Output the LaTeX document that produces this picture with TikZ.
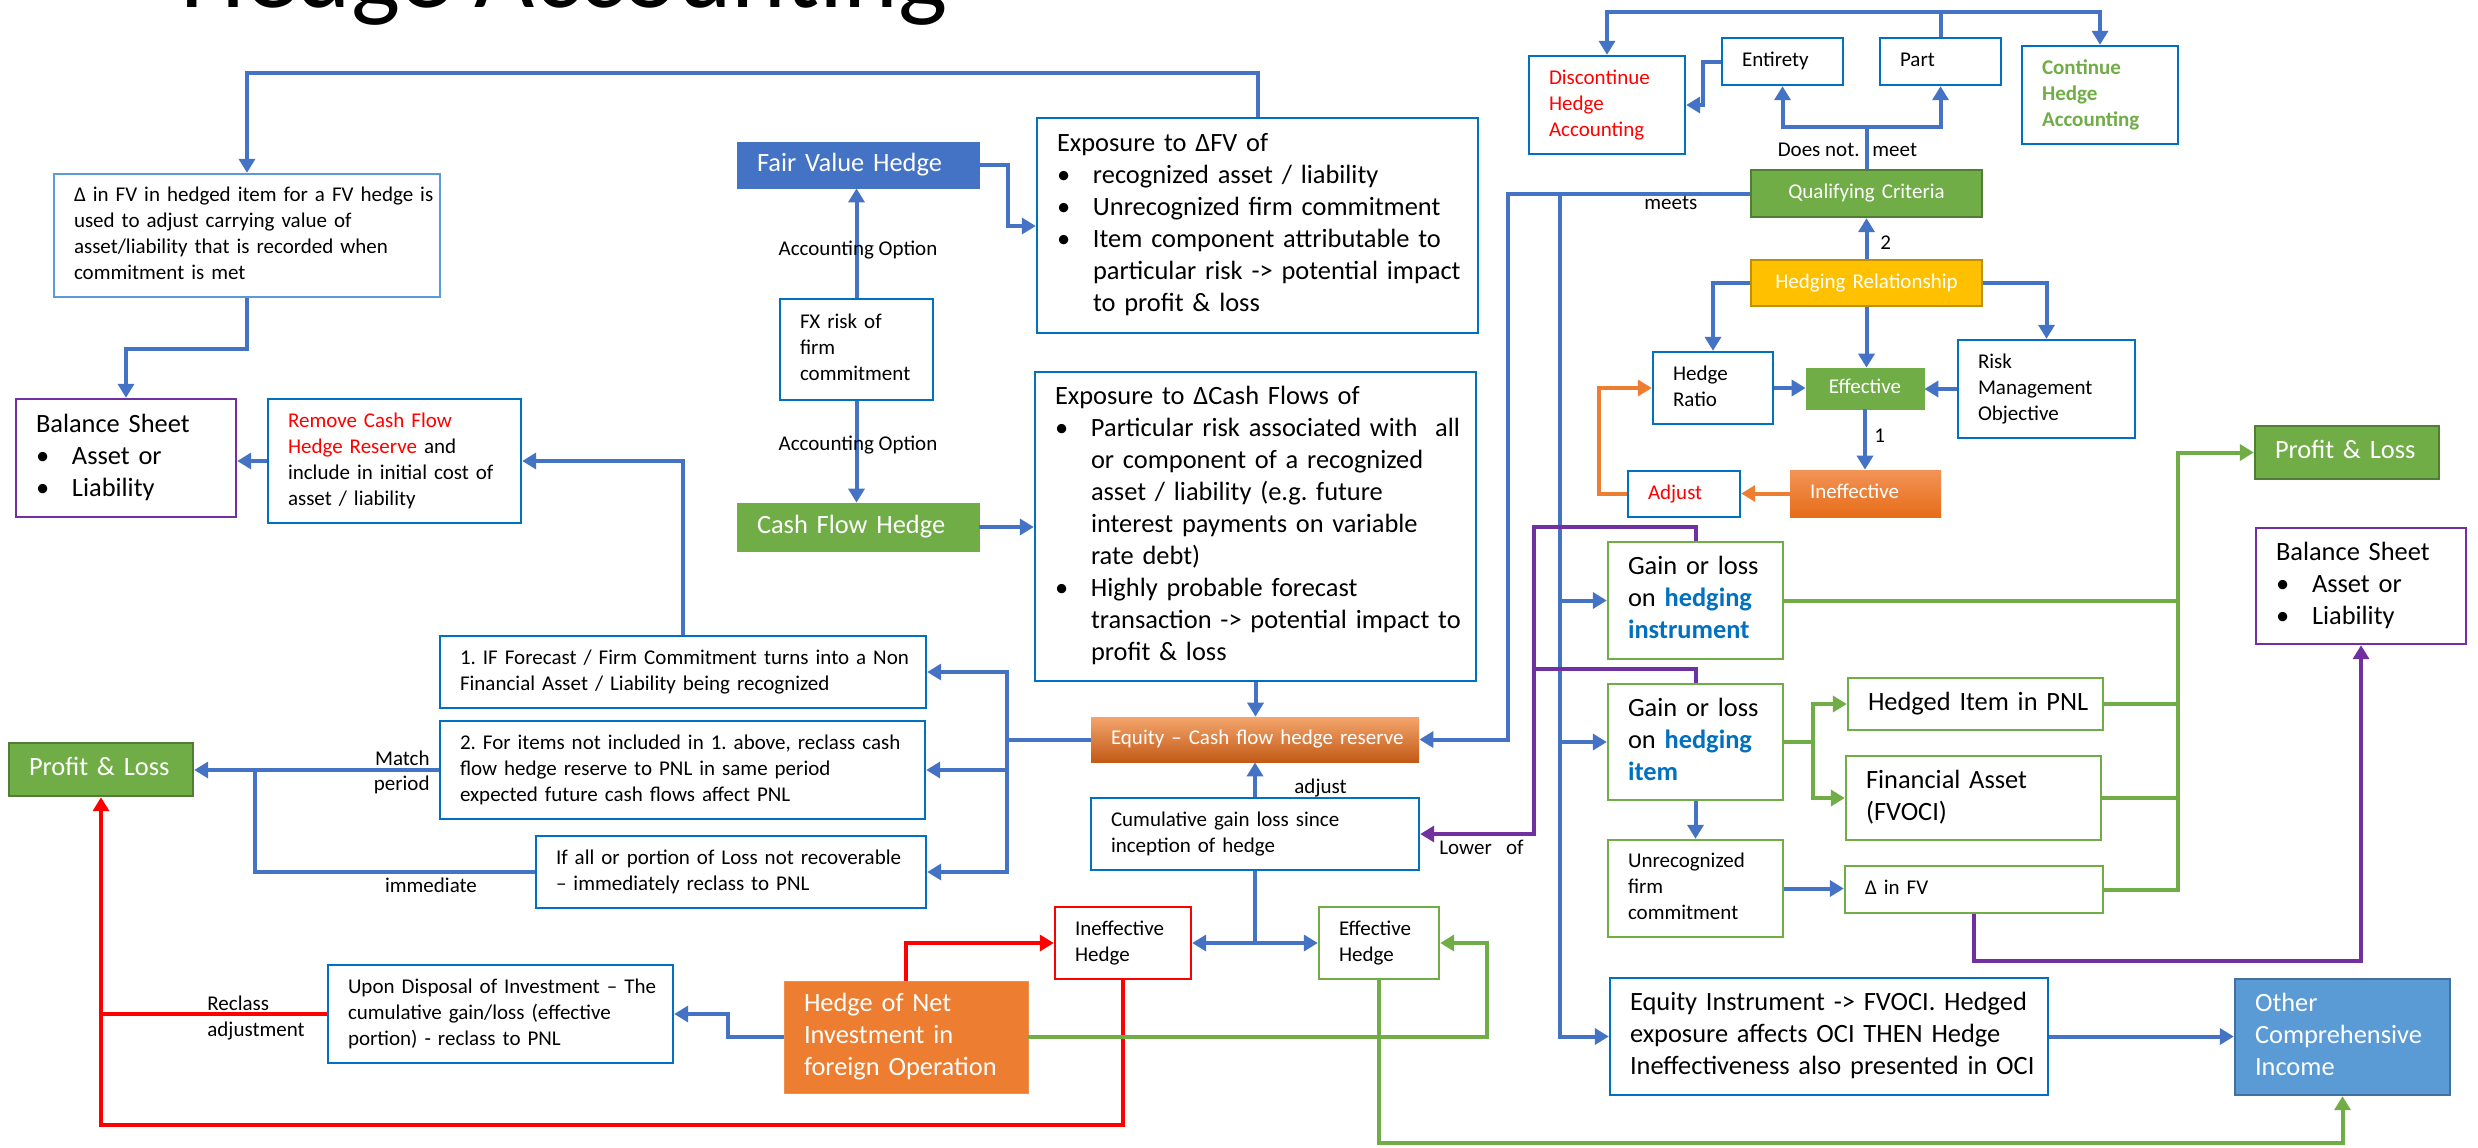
\documentclass[tikz,border=0pt]{standalone}
\usepackage{fontspec}
\setmainfont{Carlito}
\usetikzlibrary{arrows.meta}

\definecolor{cblue}{HTML}{4472C4}
\definecolor{bblue}{HTML}{0070C0}
\definecolor{lblue}{HTML}{5B9BD5}
\definecolor{ociborder}{HTML}{41719C}
\definecolor{cgreen}{HTML}{70AD47}
\definecolor{dgreen}{HTML}{507E32}
\definecolor{cpurple}{HTML}{7030A0}
\definecolor{corange}{HTML}{ED7D31}
\definecolor{cgold}{HTML}{FFC000}
\definecolor{dgold}{HTML}{BF9000}
\definecolor{eqtop}{HTML}{F4A56C}
\definecolor{eqbot}{HTML}{C25A16}
\definecolor{intop}{HTML}{F29457}
\definecolor{inbot}{HTML}{E66C18}

\newcommand\tsm{\fontsize{10.5}{13}\selectfont}
\newcommand\tlg{\fontsize{13.2}{16}\selectfont}
\newcommand\bul{\makebox[18pt][l]{\textbullet}}
\newcommand\ind{\hspace*{18pt}}
\newcommand\kw[1]{\textcolor{bblue}{\bfseries #1}}

% box given by its corners (x1,y1) (x2,y2) in pixel units, text left-padded
\newcommand\flowbox[7]{%
  \pgfmathsetmacro\fbcx{(#2+#4)/2}%
  \pgfmathsetmacro\fbcy{(#3+#5)/2}%
  \pgfmathsetmacro\fbw{(#4-#2)*0.5}%
  \pgfmathsetmacro\fbh{(#5-#3)*0.5}%
  \pgfmathsetmacro\fbtw{(#4-#2)*0.5-20}%
  \node[inner xsep=10pt, inner ysep=0pt, minimum width=\fbw pt,
        minimum height=\fbh pt, text width=\fbtw pt, align=left, #6]
        (#1) at (\fbcx,\fbcy) {\begin{tabular}{@{}l@{}}#7\end{tabular}};}

\tikzset{
  box/.style={draw=bblue, line width=1.2pt, fill=white},
  ln/.style={line width=2pt},
  tip/.style={-{Triangle[length=7pt,width=8pt]}},
  bl/.style={ln, draw=cblue, tip},
  bln/.style={ln, draw=cblue},
  rd/.style={ln, draw=red, tip},
  rdn/.style={ln, draw=red},
  gn/.style={ln, draw=cgreen, tip},
  gnn/.style={ln, draw=cgreen},
  pu/.style={ln, draw=cpurple, tip},
  pun/.style={ln, draw=cpurple},
  og/.style={ln, draw=corange, tip},
  lbl/.style={font=\tsm, inner sep=0pt},
}

\begin{document}
\frenchspacing
\begin{tikzpicture}[x=0.5pt, y=-0.5pt]
\fill[white] (0,0) rectangle (2478,1147);
\useasboundingbox (0,0) rectangle (2478,1147);
\clip (0,0) rectangle (2478,1147);

\node[anchor=base west, inner sep=0pt, font=\fontsize{52}{60}\selectfont] (title) at (180,7) {Hedge Accounting};

% ---- left part
\flowbox{dfv}{54}{174}{440}{297}{box, draw=lblue, font=\tsm}{Δ in FV in hedged item for a FV hedge is\\used to adjust carrying value of\\asset/liability that is recorded when\\commitment is met}
\flowbox{bsL}{16}{399}{236}{517}{box, draw=cpurple, font=\tlg}{Balance Sheet\\\bul Asset or\\\bul Liability}
\flowbox{remove}{268}{399}{521}{523}{box, font=\tsm}{\textcolor{red}{Remove Cash Flow}\\\textcolor{red}{Hedge Reserve} and\\include in initial cost of\\asset / liability}
\flowbox{fvh}{737}{142}{979}{188}{fill=cblue, draw=cblue, text=white, font=\tlg}{Fair Value Hedge}
\flowbox{fx}{780}{299}{933}{400}{box, font=\tsm}{FX risk of\\firm\\commitment}
\flowbox{cfh}{737}{503}{979}{551}{fill=cgreen, draw=cgreen, text=white, font=\tlg}{Cash Flow Hedge}
\flowbox{expfv}{1037}{118}{1478}{333}{box, font=\tlg}{Exposure to ΔFV of\\\bul recognized asset / liability\\\bul Unrecognized firm commitment\\\bul Item component attributable to\\\ind particular risk -> potential impact\\\ind to profit \& loss}
\flowbox{expcf}{1035}{372}{1476}{681}{box, font=\tlg}{Exposure to ΔCash Flows of\\\bul Particular risk associated with\ \ all\\\ind or component of a recognized\\\ind asset / liability (e.g. future\\\ind interest payments on variable\\\ind rate debt)\\\bul Highly probable forecast\\\ind transaction -> potential impact to\\\ind profit \& loss}
\flowbox{box1}{440}{636}{926}{708}{box, font=\tsm}{1. IF Forecast / Firm Commitment turns into a Non\\Financial Asset / Liability being recognized}
\flowbox{box2}{440}{721}{925}{819}{box, font=\tsm}{2. For items not included in 1. above, reclass cash\\flow hedge reserve to PNL in same period\\expected future cash flows affect PNL}
\flowbox{box3}{536}{836}{926}{908}{box, font=\tsm}{If all or portion of Loss not recoverable\\– immediately reclass to PNL}
\flowbox{plL}{9}{743}{193}{796}{fill=cgreen, draw=dgreen, line width=1.2pt, text=white, font=\tlg}{Profit \& Loss}
\flowbox{equity}{1091}{717}{1419}{762}{top color=eqtop, bottom color=eqbot, draw=none, text=white, font=\tsm}{Equity – Cash flow hedge reserve}
\flowbox{cum}{1091}{798}{1419}{870}{box, font=\tsm}{Cumulative gain loss since\\inception of hedge}
\flowbox{ineffH}{1055}{907}{1191}{979}{box, draw=red, font=\tsm}{Ineffective\\Hedge}
\flowbox{effH}{1319}{907}{1439}{979}{box, draw=cgreen, font=\tsm}{Effective\\Hedge}
\flowbox{hni}{784}{981}{1028}{1093}{fill=corange, draw=corange!85!white, text=white, font=\tlg}{Hedge of Net\\Investment in\\foreign Operation}
\flowbox{upon}{328}{965}{673}{1063}{box, font=\tsm}{Upon Disposal of Investment – The\\cumulative gain/loss (effective\\portion) - reclass to PNL}

% ---- right part
\flowbox{disc}{1529}{56}{1685}{154}{box, text=red, font=\tsm}{Discontinue\\Hedge\\Accounting}
\flowbox{entirety}{1722}{38}{1843}{85}{box, font=\tsm}{Entirety}
\flowbox{part}{1880}{38}{2001}{85}{box, font=\tsm}{Part}
\flowbox{cont}{2022}{46}{2178}{144}{box, text=cgreen, font=\tsm\bfseries}{Continue\\Hedge\\Accounting}
\flowbox{qc}{1751}{170}{1982}{217}{fill=cgreen, draw=dgreen, line width=1.2pt, text=white, font=\tsm, align=center}{Qualifying Criteria}
\flowbox{hr}{1751}{260}{1982}{306}{fill=cgold, draw=dgold, line width=1.2pt, text=white, font=\tsm, align=center}{Hedging Relationship}
\flowbox{hratio}{1653}{352}{1773}{424}{box, font=\tsm}{Hedge\\Ratio}
\flowbox{eff}{1806}{368}{1924}{409}{fill=cgreen, draw=cgreen, text=white, font=\tsm, align=center}{Effective}
\flowbox{risk}{1958}{340}{2135}{438}{box, font=\tsm}{Risk\\Management\\Objective}
\flowbox{ineff}{1790}{470}{1941}{517}{top color=intop, bottom color=inbot, draw=none, text=white, font=\tsm}{Ineffective}
\flowbox{adjust}{1628}{471}{1740}{517}{box, text=red, font=\tsm}{Adjust}
\flowbox{plR}{2255}{426}{2439}{479}{fill=cgreen, draw=dgreen, line width=1.2pt, text=white, font=\tlg}{Profit \& Loss}
\flowbox{bsR}{2256}{528}{2466}{644}{box, draw=cpurple, font=\tlg}{Balance Sheet\\\bul Asset or\\\bul Liability}
\flowbox{gi}{1608}{542}{1783}{659}{box, draw=cgreen, font=\tlg}{Gain or loss\\on \kw{hedging}\\\kw{instrument}}
\flowbox{gitem}{1608}{684}{1783}{800}{box, draw=cgreen, font=\tlg}{Gain or loss\\on \kw{hedging}\\\kw{item}}
\flowbox{hipnl}{1848}{678}{2103}{730}{box, draw=cgreen, font=\tlg}{Hedged Item in PNL}
\flowbox{fa}{1846}{756}{2101}{840}{box, draw=cgreen, font=\tlg}{Financial Asset\\(FVOCI)}
\flowbox{unrec}{1608}{840}{1783}{937}{box, draw=cgreen, font=\tsm}{Unrecognized\\firm\\commitment}
\flowbox{dinfv}{1845}{866}{2103}{913}{box, draw=cgreen, font=\tsm}{Δ in FV}
\flowbox{eqinst}{1610}{978}{2048}{1095}{box, font=\tlg}{Equity Instrument -> FVOCI. Hedged\\exposure affects OCI THEN Hedge\\Ineffectiveness also presented in OCI}
\flowbox{oci}{2235}{979}{2450}{1095}{fill=lblue, draw=ociborder, line width=1.2pt, text=white, font=\tlg}{Other\\Comprehensive\\Income}

% ---- blue connectors, left part
\draw[bl] (expfv.north) -- ++(0,-44) -| (dfv.north);
\draw[bl] (dfv.south) -- ++(0,51) -| (bsL.north);
\draw[bl] (remove.west) -- (remove.west -| bsL.east);
\draw[bl] (box1.north) |- (remove.east);
\draw[bl] (fx.north) -- (fx.north |- fvh.south);
\draw[bl] (fx.south) -- (fx.south |- cfh.north);
\draw[bl] (fvh.east) -- ++(29,0) |- (expfv.west |- 0,226);
\draw[bl] (cfh.east) -- (cfh.east -| expcf.west);
\draw[bl] (expcf.south) -- (expcf.south |- equity.north);
\coordinate (bus) at (1007,739.5);
\draw[bln] (equity.west) -- (bus);
\draw[bl] (bus) |- (box1.east);
\draw[bl] (bus) |- (box2.east);
\draw[bl] (bus) |- (box3.east);
\draw[bl] (box2.west) -- (box2.west -| plL.east);
\draw[bln] (box3.west) -| (255,770);
\draw[bl] (cum.north) -- (cum.north |- equity.south);
\coordinate (split) at (1255,943);
\draw[bln] (cum.south) -- (split);
\draw[bl] (split) -- (ineffH.east);
\draw[bl] (split) -- (effH.west);
\draw[bl] (hni.west) -- ++(-56,0) |- (upon.east);

% ---- red connectors
\draw[rd] (hni.north) |- (ineffH.west);
\draw[rd] (ineffH.south) -- ++(0,145) -| (plL.south);
\draw[rdn] (upon.west) -- (upon.west -| plL.south);

% ---- green connectors
\draw[gn] (hni.east) -- ++(459,0) |- (effH.east);
\draw[gn] (effH.south) -- ++(0,163) -| (oci.south);
\coordinate (gbus) at (2178,889.5);
\draw[gn] (dinfv.east) -- (gbus) |- (plR.west);
\draw[gnn] (gi.east) -- (gi.east -| gbus);
\draw[gnn] (hipnl.east) -- (hipnl.east -| gbus);
\draw[gnn] (fa.east) -- (fa.east -| gbus);
\coordinate (gsplit) at (1813,742);
\draw[gnn] (gitem.east) -- (gsplit);
\draw[gn] (gsplit) |- (hipnl.west);
\draw[gn] (gsplit) |- (fa.west);

% ---- blue connectors, right part
\draw[bl] (qc.west) -| (1508,739.5) -- (equity.east);
\coordinate (ibus) at (1560,193.5);
\draw[bl] (ibus) |- (eqinst.west);
\draw[bl] (ibus |- gi.west) -- (gi.west);
\draw[bl] (ibus |- gitem.west) -- (gitem.west);
\draw[bl] (gitem.south) -- (unrec.north);
\draw[bl] (unrec.east) -- (unrec.east -| dinfv.west);
\draw[bl] (eqinst.east) -- (eqinst.east -| oci.west);
\coordinate (qtop) at (1866.5,127);
\draw[bln] (qc.north) -- (qtop);
\draw[bl] (qtop) -| (entirety.south);
\draw[bl] (qtop) -| (part.south);
\coordinate (ptop) at (1940.5,12);
\draw[bln] (part.north) -- (ptop);
\draw[bl] (ptop) -| (disc.north);
\draw[bl] (ptop) -| (cont.north);
\draw[bl] (entirety.west) -- ++(-18,0) |- (disc.east);
\draw[bl] (hr.north) -- (qc.south);
\draw[bl] (hr.west) -| (hratio.north);
\draw[bl] (hr.east) -| (risk.north);
\draw[bl] (hr.south) -- (hr.south |- eff.north);
\draw[bl] (hratio.east) -- (hratio.east -| eff.west);
\draw[bl] (risk.west) -- (risk.west -| eff.east);
\draw[bl] (eff.south) -- (eff.south |- ineff.north);

% ---- orange connectors
\draw[og] (ineff.west) -- (ineff.west -| adjust.east);
\draw[og] (adjust.west) -- ++(-28,0) |- (hratio.west);

% ---- purple connectors
\draw[pu] (dinfv.south) -- ++(0,47) -| (bsR.south);
\draw[pu] (gi.north) -- ++(0,-14) -| (1534,834) -- (cum.east);
\draw[pun] (gitem.north) |- (1534,669);

% ---- connector labels
\node[lbl] (ao1) at (858,250) {Accounting Option};
\node[lbl] (ao2) at (858,445) {Accounting Option};
\node[lbl, anchor=east] (match) at (430,758) {Match};
\node[lbl, anchor=east] (period) at (430,785) {period};
\node[lbl] (immed) at (431,885) {immediate};
\node[lbl, anchor=west] (recl) at (207,1003) {Reclass};
\node[lbl, anchor=west] (recl2) at (207,1031) {adjustment};
\node[lbl, anchor=west] (adjl) at (1294,788) {adjust};
\node[lbl, anchor=west] (lowl) at (1439,847) {Lower\ \ \ of};
\node[lbl, anchor=west] (meetsl) at (1644,203) {meets};
\node[lbl, anchor=east] (dnl) at (1860,150) {Does not.};
\node[lbl, anchor=west] (meetl) at (1872,150) {meet};
\node[lbl, anchor=west] (two) at (1880,243) {2};
\node[lbl, anchor=west] (one) at (1874,436) {1};
\end{tikzpicture}
\end{document}
